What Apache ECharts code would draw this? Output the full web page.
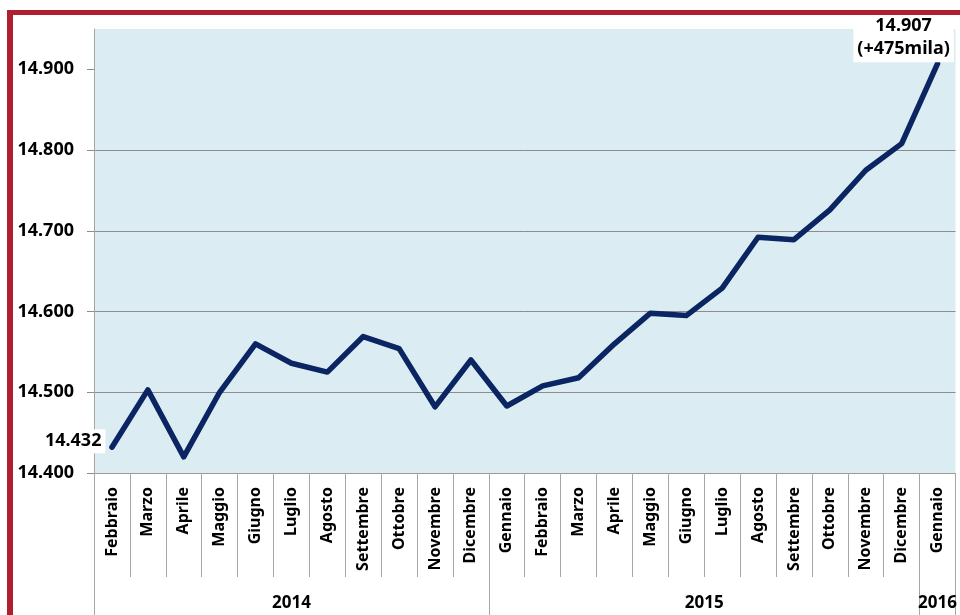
<!DOCTYPE html>
<html>
<head>
<meta charset="utf-8">
<script src="https://cdn.jsdelivr.net/npm/echarts@6/dist/echarts.min.js"></script>
<style>
html,body{margin:0;padding:0;background:#fff;}
#chart{position:absolute;left:0;top:0;width:960px;height:615px;}
#frame{position:absolute;left:7px;top:10px;width:953px;height:605px;box-sizing:border-box;border-top:5px solid #b01e2f;border-left:6px solid #b01e2f;pointer-events:none;}
</style>
</head>
<body>
<div id="chart"></div>
<div id="frame"></div>
<script>
// Categories (months)
const months = ['Febbraio','Marzo','Aprile','Maggio','Giugno','Luglio','Agosto','Settembre','Ottobre','Novembre','Dicembre',
                'Gennaio','Febbraio','Marzo','Aprile','Maggio','Giugno','Luglio','Agosto','Settembre','Ottobre','Novembre','Dicembre',
                'Gennaio'];
// Years and how many months each spans
const years = ['2014','2015','2016'];
const yearSpans = [11, 12, 1];
// Occupati (migliaia)
const values = [14432,14503,14420,14500,14560,14536,14525,14569,14554,14482,14540,
                14483,14508,14518,14560,14598,14595,14629,14692,14689,14726,14775,14808,
                14907];
// Y tick values
const yTicks = [14400,14500,14600,14700,14800,14900];
const yMin = 14400, yMax = 14950;
const lastNote = '(+475mila)';

const fmt = v => (v/1000).toFixed(3);

// year boundaries and centers
const yearBounds = [0];
yearSpans.forEach(s => yearBounds.push(yearBounds[yearBounds.length-1] + s));
const yearCenters = yearSpans.map((s,i) => yearBounds[i] + s/2);

const FONT = 'Noto Sans';
const last = values.length - 1;
const seriesData = values.map((v,i) => {
  if (i === 0) return {value:v, label:{show:true, position:'left', distance:6, offset:[0,-6],
      formatter: fmt(v), backgroundColor:'#fff', padding:[3,4,3,6],
      color:'#000', fontFamily:FONT, fontWeight:'bold', fontSize:18}};
  if (i === last) return {value:v, label:{show:true, position:'top', distance:1, offset:[-34,0],
      formatter: fmt(v) + '\n' + lastNote, backgroundColor:'#fff', padding:[2,4],
      lineHeight:23, align:'center',
      color:'#000', fontFamily:FONT, fontWeight:'bold', fontSize:18}};
  return {value:v, label:{show:false}};
});

const chart = echarts.init(document.getElementById('chart'));
chart.setOption({
  animation:false,
  backgroundColor:'#fff',
  grid:{left:94, right:4, top:29, bottom:142, show:true, backgroundColor:'#dbedf3', borderWidth:0},
  xAxis:[{
    type:'category', data:months, boundaryGap:true, position:'bottom',
    axisLine:{show:true, lineStyle:{color:'#9a9a9a', width:1}},
    axisTick:{show:true, interval:0, length:104, lineStyle:{color:'#a6a6a6'}},
    axisLabel:{interval:0, rotate:90, margin:14, color:'#000', fontFamily:FONT, fontWeight:'bold', fontSize:16},
    splitLine:{show:false}
  },{
    type:'value', min:0, max:months.length, position:'bottom',
    axisLine:{show:false},
    axisTick:{show:true, customValues:yearBounds, length:142, lineStyle:{color:'#a6a6a6'}},
    axisLabel:{show:true, customValues:yearCenters, margin:122, color:'#000', fontFamily:FONT, fontWeight:'bold', fontSize:17,
      formatter: v => { const k = yearCenters.indexOf(v); return k >= 0 ? years[k] : ''; }},
    splitLine:{show:false}
  }],
  yAxis:{
    type:'value', min:yMin, max:yMax, interval:100,
    axisLine:{show:true, lineStyle:{color:'#a6a6a6'}},
    axisTick:{show:true, length:7, customValues:yTicks, lineStyle:{color:'#8c8c8c'}},
    axisLabel:{customValues:yTicks, margin:20, color:'#000', fontFamily:FONT, fontWeight:'bold', fontSize:18, formatter: v => fmt(v)},
    splitLine:{show:true, showMaxLine:false, lineStyle:{color:'#8c8c8c', width:1}}
  },
  series:[{
    type:'line', xAxisIndex:0, data:seriesData, symbol:'circle', symbolSize:1, showSymbol:true,
    itemStyle:{color:'#0a2562'},
    smooth:false,
    lineStyle:{color:'#0a2562', width:5.5, join:'round', cap:'round'},
    z:5
  }]
});
</script>
</body>
</html>
